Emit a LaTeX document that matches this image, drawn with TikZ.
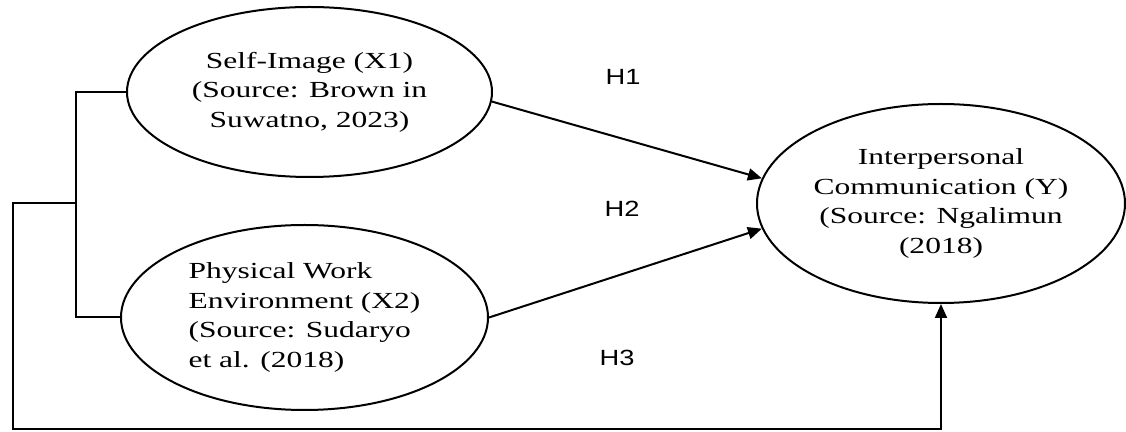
\documentclass[tikz,border=0pt]{standalone}
\usepackage{fontspec}
\usepackage{tikz}
\usetikzlibrary{shapes.geometric,arrows.meta}
\newfontfamily\serifwide{Liberation Serif}[FakeStretch=1.37]
\newfontfamily\sanswide{Liberation Sans}[FakeStretch=1.24]

\begin{document}
\begin{tikzpicture}[%
        x=0.5pt, y=-0.5pt,
        var/.style={ellipse, draw, inner sep=0pt,
          font=\serifwide\fontsize{11.5}{14.75}\selectfont},
        hyp/.style={font=\sanswide\fontsize{11}{13}\selectfont},
        line width=1pt, >={Triangle[length=7pt,width=6pt]}
      ]
      \useasboundingbox (0,0) rectangle (1126,432);
      \node [] (x1) [var, minimum width=182.5pt, minimum height=85pt, align=center] at (309.5,92)
        {Self-Image (X1)\\(Source: Brown in\\Suwatno, 2023)};
      \node [] (x2) [var, minimum width=183.5pt, minimum height=92.5pt, align=left] at (304.5,317.5)
        {Physical Work\\Environment (X2)\\(Source: Sudaryo\\et al. (2018)};
      \node [] (y) [var, minimum width=184pt, minimum height=99.5pt, align=center] at (941,203.5)
        {Interpersonal\\Communication (Y)\\(Source: Ngalimun\\(2018)};
      \node [] (h1) [hyp] at (623,77) {H1};
      \node [] (h2) [hyp] at (622,209) {H2};
      \node [] (h3) [hyp] at (617,358) {H3};
      % bracket joining the two predictors
      \coordinate (join) at (76,203);
      \coordinate (corner) at (13,203);
      \coordinate (base) at (13,429);
      \draw (x1.west) -| (join) |- (x2.west);
      \draw [->] (join) -- (corner) -- (base) -| (y.south);
      \path [draw] (x1.-3) edge[->] (y.172)
      (x2.east) edge[->] (y.188);
    \end{tikzpicture}
\end{document}
